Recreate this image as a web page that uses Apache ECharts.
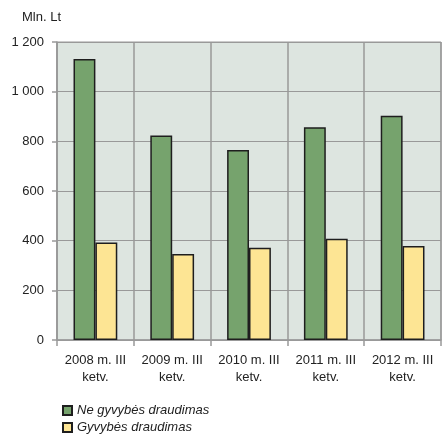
<!DOCTYPE html>
<html>
<head>
<meta charset="utf-8">
<script src="https://cdn.jsdelivr.net/npm/echarts@6/dist/echarts.min.js"></script>
<style>
  html, body { margin: 0; padding: 0; background: #fff; }
  #chart { width: 442px; height: 437px; }
</style>
</head>
<body>
<div id="chart"></div>
<script>
const categories = ['2008 m. III\nketv.', '2009 m. III\nketv.', '2010 m. III\nketv.', '2011 m. III\nketv.', '2012 m. III\nketv.']
const nonLife = [1132, 823, 765, 857, 903]
const life = [393, 346, 371, 408, 379]
const seriesNames = ['Ne gyvybės draudimas', 'Gyvybės draudimas']

const myChart = echarts.init(document.getElementById('chart'))
const font = 'Liberation Sans'

// one legend per row, stacked under the chart
const legendRow = (name, top) => ({
  orient: 'horizontal',
  left: 62,
  top: top,
  padding: 0,
  itemWidth: 9,
  itemHeight: 9,
  itemGap: 4,
  textStyle: { fontStyle: 'italic', fontSize: 13, color: '#222', fontFamily: font },
  data: [{ name: name, icon: 'rect' }]
})

myChart.setOption({
  animation: false,
  textStyle: { fontFamily: font },
  grid: {
    left: 57,
    right: 1,
    top: 42,
    bottom: 97,
    show: true,
    backgroundColor: '#dde5e0',
    borderColor: '#999',
    borderWidth: 1
  },
  graphic: [{
    type: 'text',
    left: 22,
    top: 11,
    style: { text: 'Mln. Lt', font: '13px ' + font, fill: '#222' }
  }],
  legend: [legendRow(seriesNames[0], 404), legendRow(seriesNames[1], 421)],
  xAxis: {
    type: 'category',
    data: categories,
    axisLine: { lineStyle: { color: '#999', width: 1.5 } },
    axisTick: { show: true, interval: 0, length: 6, lineStyle: { color: '#999', width: 1.5 } },
    axisLabel: { interval: 0, color: '#222', fontSize: 13, lineHeight: 17, margin: 12, fontFamily: font },
    splitLine: { show: true, interval: 0, lineStyle: { color: '#999', width: 1.5 } }
  },
  yAxis: {
    type: 'value',
    min: 0,
    max: 1200,
    interval: 200,
    axisLine: { show: true, lineStyle: { color: '#999', width: 1.5 } },
    axisTick: { show: true, length: 5, lineStyle: { color: '#999', width: 1.5 } },
    axisLabel: {
      color: '#222',
      fontSize: 13,
      margin: 13,
      fontFamily: font,
      formatter: v => String(v).replace(/\B(?=(\d{3})+(?!\d))/g, ' ')
    },
    splitLine: { show: true, lineStyle: { color: '#999', width: 1 } }
  },
  series: [
    {
      name: seriesNames[0],
      type: 'bar',
      data: nonLife,
      barGap: '0%',
      barCategoryGap: '43%',
      itemStyle: { color: '#76a36d', borderColor: '#1e1e1e', borderWidth: 1.5 }
    },
    {
      name: seriesNames[1],
      type: 'bar',
      data: life,
      itemStyle: { color: '#fde594', borderColor: '#1e1e1e', borderWidth: 1.5 }
    }
  ]
})
</script>
</body>
</html>
